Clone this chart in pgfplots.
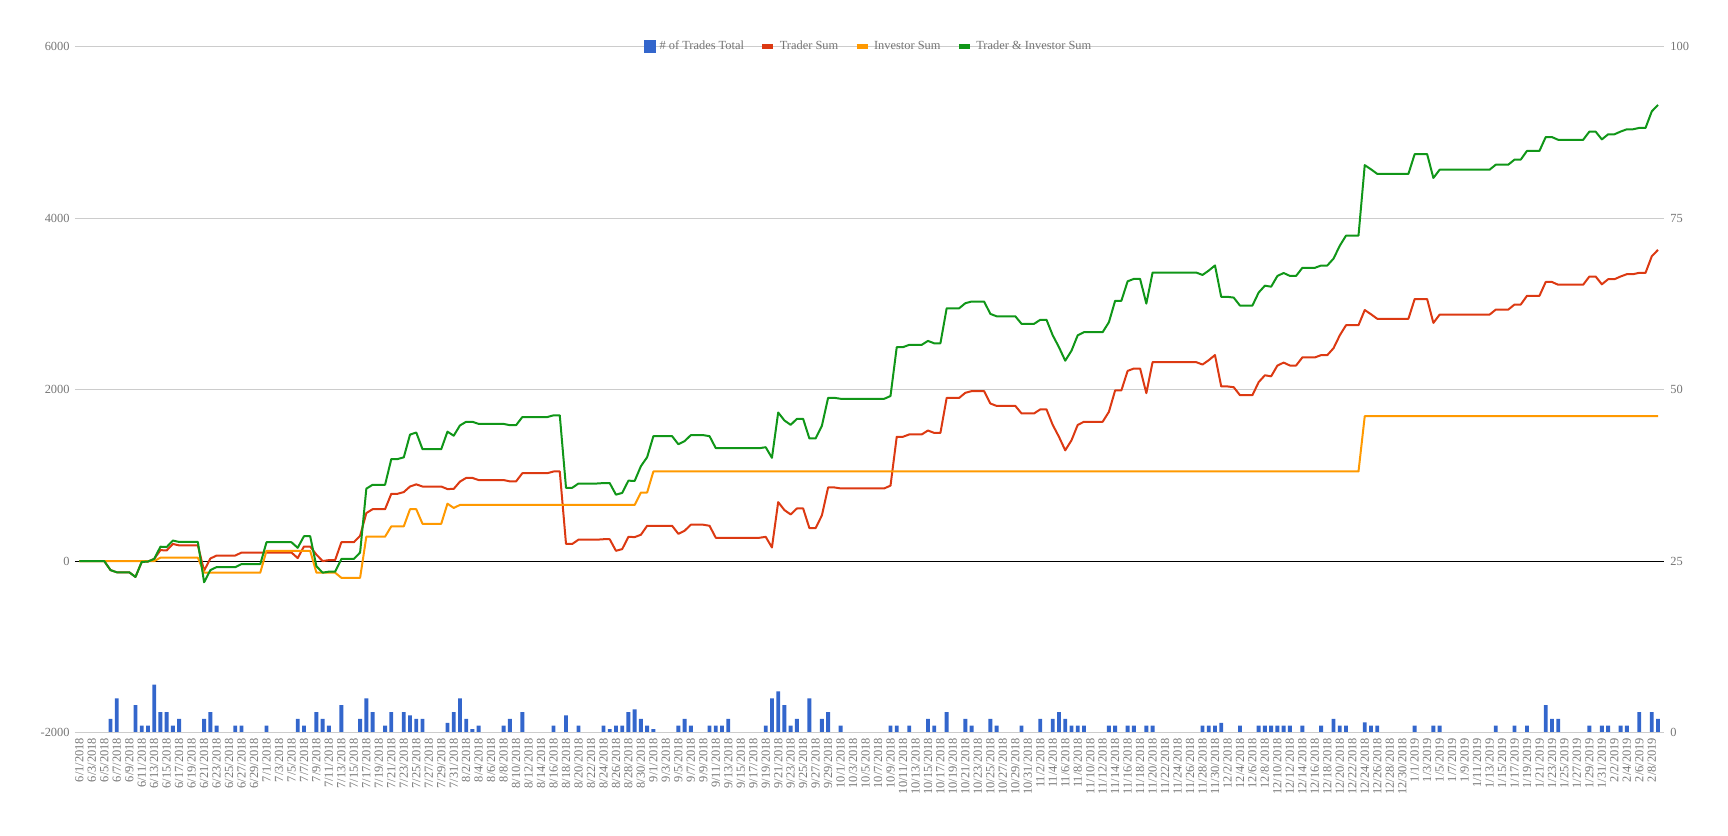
\documentclass[border=0pt]{standalone}
\usepackage{pgfplots}
\usepackage{pgfplotstable}
\pgfplotsset{compat=1.18}
\usepackage{fontspec}
\setmainfont{Liberation Serif}
\definecolor{cblue}{HTML}{3366CC}
\definecolor{cred}{HTML}{DC3912}
\definecolor{corange}{HTML}{FF9900}
\definecolor{cgreen}{HTML}{109618}
\definecolor{cgrid}{HTML}{CCCCCC}
\definecolor{ctext}{HTML}{757575}

\pgfplotstableread[row sep=\\]{
i b r o g\\
0 0 0 0 0\\ 1 0 0 0 0\\ 2 0 0 0 0\\ 3 0 0 0 0\\ 4 0 0 0 0\\
5 2 -105 0 -105\\ 6 5 -130 0 -130\\ 7 0 -130 0 -130\\ 8 0 -130 0 -130\\ 9 4 -185 0 -185\\
10 1 -10 0 -10\\ 11 1 -5 0 -5\\ 12 7 25 0 25\\ 13 3 128 40 168\\ 14 3 124 40 164\\
15 1 200 40 240\\ 16 2 183 40 223\\ 17 0 183 40 223\\ 18 0 183 40 223\\ 19 0 183 40 223\\
20 2 -112 -135 -247\\ 21 3 30 -135 -105\\ 22 1 65 -135 -70\\ 23 0 65 -135 -70\\ 24 0 65 -135 -70\\
25 1 65 -135 -70\\ 26 1 100 -135 -35\\ 27 0 100 -135 -35\\ 28 0 100 -135 -35\\ 29 0 100 -135 -35\\
30 1 100 120 220\\ 31 0 100 120 220\\ 32 0 100 120 220\\ 33 0 100 120 220\\ 34 0 100 120 220\\
35 2 35 120 155\\ 36 1 170 120 290\\ 37 0 170 120 290\\ 38 3 75 -135 -60\\ 39 2 0 -135 -135\\
40 1 12 -135 -123\\ 41 0 12 -135 -123\\ 42 4 220 -195 25\\ 43 0 220 -195 25\\ 44 0 220 -195 25\\
45 2 295 -195 100\\ 46 5 560 285 845\\ 47 3 605 285 890\\ 48 0 605 285 890\\ 49 1 605 285 890\\
50 3 785 405 1190\\ 51 0 785 405 1190\\ 52 3 805 405 1210\\ 53 2.5 870 605 1475\\ 54 2 895 605 1500\\
55 2 870 435 1305\\ 56 0 870 435 1305\\ 57 0 870 435 1305\\ 58 0 870 435 1305\\ 59 1.4 840 670 1510\\
60 3 842 620 1462\\ 61 5 927 655 1582\\ 62 2 970 655 1625\\ 63 0.5 970 655 1625\\ 64 1 945 655 1600\\
65 0 945 655 1600\\ 66 0 945 655 1600\\ 67 0 945 655 1600\\ 68 1 945 655 1600\\ 69 2 930 655 1585\\
70 0 930 655 1585\\ 71 3 1025 655 1680\\ 72 0 1025 655 1680\\ 73 0 1025 655 1680\\ 74 0 1025 655 1680\\
75 0 1025 655 1680\\ 76 1 1045 655 1700\\ 77 0 1045 655 1700\\ 78 2.5 200 655 855\\ 79 0 200 655 855\\
80 1 250 655 905\\ 81 0 250 655 905\\ 82 0 250 655 905\\ 83 0 250 655 905\\ 84 1 255 655 910\\
85 0.5 255 655 910\\ 86 1 120 655 775\\ 87 1 140 655 795\\ 88 3 283 655 938\\ 89 3.4 280 655 935\\
90 2 307 800 1107\\ 91 1 412 800 1212\\ 92 0.5 412 1045 1457\\ 93 0 412 1045 1457\\ 94 0 412 1045 1457\\
95 0 412 1045 1457\\ 96 1 318 1045 1363\\ 97 2 354 1045 1399\\ 98 1 424 1045 1469\\ 99 0 424 1045 1469\\
100 0 424 1045 1469\\ 101 1 412 1045 1457\\ 102 1 272 1045 1317\\ 103 1 272 1045 1317\\ 104 2 272 1045 1317\\
105 0 272 1045 1317\\ 106 0 272 1045 1317\\ 107 0 272 1045 1317\\ 108 0 272 1045 1317\\ 109 0 272 1045 1317\\
110 1 283 1045 1328\\ 111 5 159 1045 1204\\ 112 6 688 1045 1733\\ 113 4 595 1045 1640\\ 114 1 544 1045 1589\\
115 2 614 1045 1659\\ 116 0 614 1045 1659\\ 117 5 385 1045 1430\\ 118 0 385 1045 1430\\ 119 2 532 1045 1577\\
120 3 859 1045 1904\\ 121 0 859 1045 1904\\ 122 1 848 1045 1893\\ 123 0 848 1045 1893\\ 124 0 848 1045 1893\\
125 0 848 1045 1893\\ 126 0 848 1045 1893\\ 127 0 848 1045 1893\\ 128 0 848 1045 1893\\ 129 0 848 1045 1893\\
130 1 880 1045 1925\\ 131 1 1450 1045 2495\\ 132 0 1450 1045 2495\\ 133 1 1477 1045 2522\\ 134 0 1477 1045 2522\\
135 0 1477 1045 2522\\ 136 2 1523 1045 2568\\ 137 1 1495 1045 2540\\ 138 0 1495 1045 2540\\ 139 3 1903 1045 2948\\
140 0 1903 1045 2948\\ 141 0 1903 1045 2948\\ 142 2 1963 1045 3008\\ 143 1 1982 1045 3027\\ 144 0 1982 1045 3027\\
145 0 1982 1045 3027\\ 146 2 1838 1045 2883\\ 147 1 1810 1045 2855\\ 148 0 1810 1045 2855\\ 149 0 1810 1045 2855\\
150 0 1810 1045 2855\\ 151 1 1722 1045 2767\\ 152 0 1722 1045 2767\\ 153 0 1722 1045 2767\\ 154 2 1769 1045 2814\\
155 0 1769 1045 2814\\ 156 2 1588 1045 2633\\ 157 3 1449 1045 2494\\ 158 2 1292 1045 2337\\ 159 1 1408 1045 2453\\
160 1 1588 1045 2633\\ 161 1 1625 1045 2670\\ 162 0 1625 1045 2670\\ 163 0 1625 1045 2670\\ 164 0 1625 1045 2670\\
165 1 1741 1045 2786\\ 166 1 1991 1045 3036\\ 167 0 1991 1045 3036\\ 168 1 2218 1045 3263\\ 169 1 2246 1045 3291\\
170 0 2246 1045 3291\\ 171 1 1958 1045 3003\\ 172 1 2320 1045 3365\\ 173 0 2320 1045 3365\\ 174 0 2320 1045 3365\\
175 0 2320 1045 3365\\ 176 0 2320 1045 3365\\ 177 0 2320 1045 3365\\ 178 0 2320 1045 3365\\ 179 0 2320 1045 3365\\
180 1 2292 1045 3337\\ 181 1 2343 1045 3388\\ 182 1 2403 1045 3448\\ 183 1.4 2037 1045 3082\\ 184 0 2037 1045 3082\\
185 0 2028 1045 3073\\ 186 1 1935 1045 2980\\ 187 0 1935 1045 2980\\ 188 0 1935 1045 2980\\ 189 1 2087 1045 3132\\
190 1 2167 1045 3212\\ 191 1 2155 1045 3200\\ 192 1 2280 1045 3325\\ 193 1 2315 1045 3360\\ 194 1 2281 1045 3326\\
195 0 2281 1045 3326\\ 196 1 2375 1045 3420\\ 197 0 2375 1045 3420\\ 198 0 2375 1045 3420\\ 199 1 2402 1045 3447\\
200 0 2402 1045 3447\\ 201 2 2483 1045 3528\\ 202 1 2633 1045 3678\\ 203 1 2751 1045 3796\\ 204 0 2751 1045 3796\\
205 0 2751 1045 3796\\ 206 1.5 2928 1690 4618\\ 207 1 2879 1690 4569\\ 208 1 2826 1690 4516\\ 209 0 2826 1690 4516\\
210 0 2826 1690 4516\\ 211 0 2826 1690 4516\\ 212 0 2826 1690 4516\\ 213 0 2826 1690 4516\\ 214 1 3056 1690 4746\\
215 0 3056 1690 4746\\ 216 0 3056 1690 4746\\ 217 1 2778 1690 4468\\ 218 1 2874 1690 4564\\ 219 0 2874 1690 4564\\
220 0 2874 1690 4564\\ 221 0 2874 1690 4564\\ 222 0 2874 1690 4564\\ 223 0 2874 1690 4564\\ 224 0 2874 1690 4564\\
225 0 2874 1690 4564\\ 226 0 2874 1690 4564\\ 227 1 2933 1690 4623\\ 228 0 2933 1690 4623\\ 229 0 2933 1690 4623\\
230 1 2992 1690 4682\\ 231 0 2992 1690 4682\\ 232 1 3094 1690 4784\\ 233 0 3094 1690 4784\\ 234 0 3094 1690 4784\\
235 4 3255 1690 4945\\ 236 2 3255 1690 4945\\ 237 2 3223 1690 4913\\ 238 0 3223 1690 4913\\ 239 0 3223 1690 4913\\
240 0 3223 1690 4913\\ 241 0 3223 1690 4913\\ 242 1 3319 1690 5009\\ 243 0 3319 1690 5009\\ 244 1 3228 1690 4918\\
245 1 3287 1690 4977\\ 246 0 3287 1690 4977\\ 247 1 3319 1690 5009\\ 248 1 3346 1690 5036\\ 249 0 3346 1690 5036\\
250 3 3362 1690 5052\\ 251 0 3362 1690 5052\\ 252 3 3555 1690 5245\\ 253 2 3630 1690 5320\\
}\data

\begin{document}
\begin{tikzpicture}
\path[use as bounding box] (-37.5pt,-51.25pt) rectangle (826.5pt,366.3pt);
\pgfplotsset{
  common/.style={
    scale only axis, width=794.5pt, height=343pt,
    xmin=-0.69, xmax=253.96,
    at={(0,0)}, anchor=south west,
    axis line style={draw=none},
    tick style={draw=none},
    ticklabel style={font=\fontsize{6.2}{7}\selectfont, text=ctext},
    /pgf/number format/assume math mode=true,
    /pgf/number format/set thousands separator={},
  }
}
\begin{axis}[common,
  ymin=0, ymax=100,
  ytick={0,25,50,75,100},
  yticklabel pos=right,
  yticklabel style={anchor=west, inner sep=0pt, xshift=3pt},
  hide x axis,
]
\addplot[ybar, bar width=0.62, fill=cblue, draw=none] table[x=i, y=b]{\data};
\end{axis}
\begin{axis}[common,
  ymin=-2000, ymax=6000,
  ytick={-2000,2000,4000,6000},
  extra y ticks={0},
  extra y tick style={grid style={black, line width=0.6pt}},
  ymajorgrids,
  grid style={cgrid, line width=0.5pt},
  yticklabel style={anchor=east, inner sep=0pt, xshift=-2.5pt},
  xtick={0,2,...,252},
  xticklabels={6/1/2018,6/3/2018,6/5/2018,6/7/2018,6/9/2018,6/11/2018,6/13/2018,6/15/2018,6/17/2018,6/19/2018,6/21/2018,6/23/2018,6/25/2018,6/27/2018,6/29/2018,
  7/1/2018,7/3/2018,7/5/2018,7/7/2018,7/9/2018,7/11/2018,7/13/2018,7/15/2018,7/17/2018,7/19/2018,7/21/2018,7/23/2018,7/25/2018,7/27/2018,7/29/2018,7/31/2018,
  8/2/2018,8/4/2018,8/6/2018,8/8/2018,8/10/2018,8/12/2018,8/14/2018,8/16/2018,8/18/2018,8/20/2018,8/22/2018,8/24/2018,8/26/2018,8/28/2018,8/30/2018,
  9/1/2018,9/3/2018,9/5/2018,9/7/2018,9/9/2018,9/11/2018,9/13/2018,9/15/2018,9/17/2018,9/19/2018,9/21/2018,9/23/2018,9/25/2018,9/27/2018,9/29/2018,
  10/1/2018,10/3/2018,10/5/2018,10/7/2018,10/9/2018,10/11/2018,10/13/2018,10/15/2018,10/17/2018,10/19/2018,10/21/2018,10/23/2018,10/25/2018,10/27/2018,10/29/2018,10/31/2018,
  11/2/2018,11/4/2018,11/6/2018,11/8/2018,11/10/2018,11/12/2018,11/14/2018,11/16/2018,11/18/2018,11/20/2018,11/22/2018,11/24/2018,11/26/2018,11/28/2018,11/30/2018,
  12/2/2018,12/4/2018,12/6/2018,12/8/2018,12/10/2018,12/12/2018,12/14/2018,12/16/2018,12/18/2018,12/20/2018,12/22/2018,12/24/2018,12/26/2018,12/28/2018,12/30/2018,
  1/1/2019,1/3/2019,1/5/2019,1/7/2019,1/9/2019,1/11/2019,1/13/2019,1/15/2019,1/17/2019,1/19/2019,1/21/2019,1/23/2019,1/25/2019,1/27/2019,1/29/2019,1/31/2019,
  2/2/2019,2/4/2019,2/6/2019,2/8/2019},
  xticklabel style={rotate=90, anchor=east, inner sep=0pt, yshift=0pt},
  xticklabel shift=2.5pt,
  legend columns=-1,
  legend style={at={(0.5,1)}, anchor=center, draw=none, fill=none,
    font=\fontsize{6.2}{7}\selectfont, text=ctext,
    /tikz/every even column/.append style={column sep=6pt},
    inner sep=0pt},
  legend image code/.code={\draw[#1, line width=2.4pt] (0pt,0pt) -- (5.5pt,0pt);},
]
\addlegendimage{legend image code/.code={\fill[cblue] (0pt,-2.9pt) rectangle (5.5pt,2.9pt);}}
\addlegendentry{\# of Trades Total}
\addplot[cred, line width=1pt, line join=round] table[x=i, y=r]{\data};
\addlegendentry{Trader Sum}
\addplot[corange, line width=1pt, line join=round] table[x=i, y=o]{\data};
\addlegendentry{Investor Sum}
\addplot[cgreen, line width=1pt, line join=round] table[x=i, y=g]{\data};
\addlegendentry{Trader \& Investor Sum}
\end{axis}
\end{tikzpicture}
\end{document}
